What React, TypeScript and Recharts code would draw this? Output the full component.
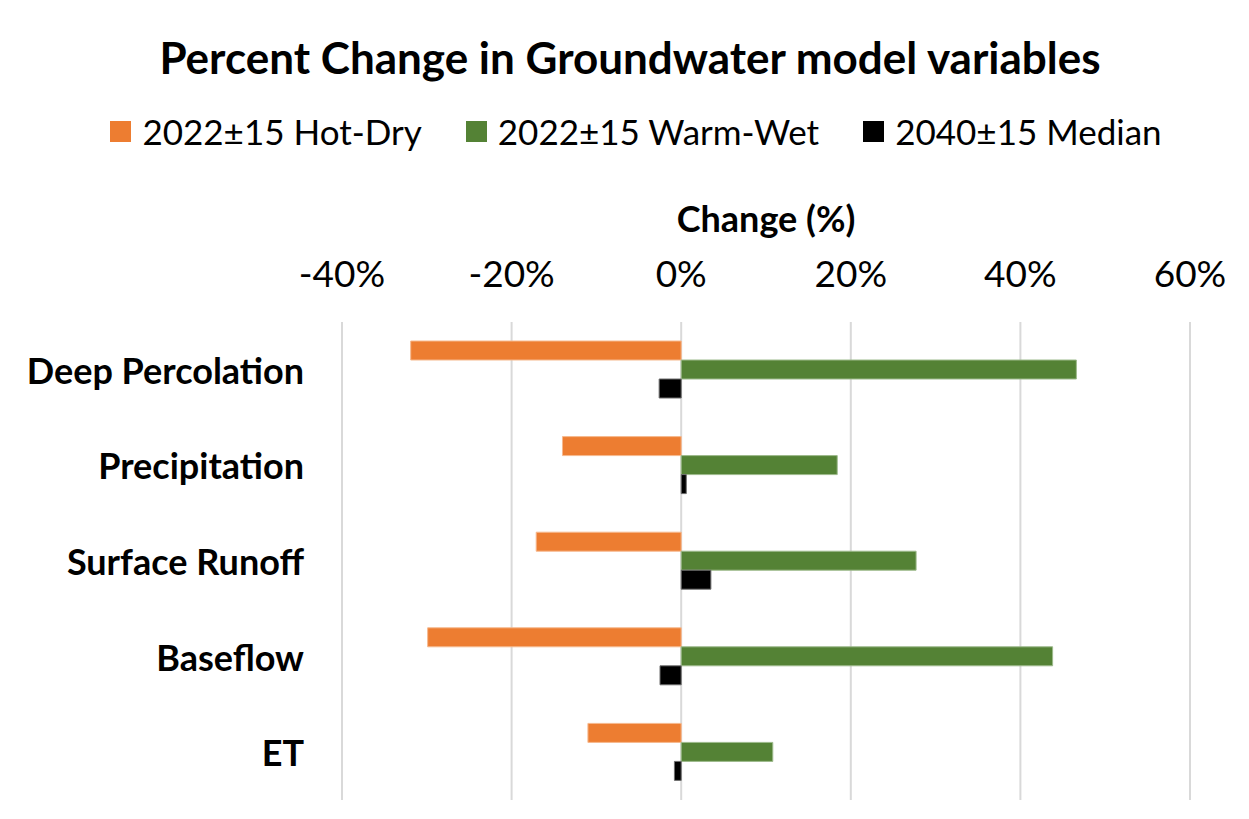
import { Bar, BarChart, CartesianGrid, XAxis, YAxis } from "recharts";

const categories = ["Deep Percolation", "Precipitation", "Surface Runoff", "Baseflow", "ET"];
const hotDry = [-31.9, -14.0, -17.1, -29.9, -11.0];
const warmWet = [46.6, 18.4, 27.7, 43.8, 10.8];
const median = [-2.6, 0.6, 3.5, -2.5, -0.8];
const xTicks = [-40, -20, 0, 20, 40, 60];

const data = categories.map((name, i) => ({
  name,
  hotDry: hotDry[i],
  warmWet: warmWet[i],
  median: median[i],
}));

const FONT = "Lato, 'Open Sans', sans-serif";

const legendItems = [
  { label: "2022±15 Hot-Dry", color: "#ED7D31" },
  { label: "2022±15 Warm-Wet", color: "#548235" },
  { label: "2040±15 Median", color: "#000000" },
];

function XTick({ x, y, payload }: { x?: number; y?: number; payload?: { value: number } }) {
  return (
    <text
      x={x}
      y={(y ?? 0) - 50}
      textAnchor="middle"
      dominantBaseline="central"
      fontSize={37}
      fontFamily={FONT}
      fill="#000"
    >
      {`${payload?.value}%`}
    </text>
  );
}

function YTick({ x, y, payload }: { x?: number; y?: number; payload?: { value: string } }) {
  return (
    <text
      x={x}
      y={y}
      textAnchor="end"
      dominantBaseline="central"
      fontSize={36}
      fontWeight={700}
      fontFamily={FONT}
      fill="#000"
    >
      {payload?.value}
    </text>
  );
}

export default function App() {
  return (
    <div
      style={{
        position: "absolute",
        left: 0,
        top: 0,
        width: 1249,
        height: 819,
        background: "#fff",
        fontFamily: FONT,
        color: "#000",
      }}
    >
      <div
        style={{
          position: "absolute",
          left: 0,
          width: 1260,
          top: 28,
          textAlign: "center",
          fontSize: 44,
          fontWeight: 700,
          lineHeight: "58px",
        }}
      >
        Percent Change in Groundwater model variables
      </div>
      <div
        style={{
          position: "absolute",
          left: 0,
          width: 1272,
          top: 110,
          display: "flex",
          justifyContent: "center",
          gap: 44,
          fontSize: 35,
          lineHeight: "42px",
        }}
      >
        {legendItems.map((it) => (
          <div key={it.label} style={{ display: "flex", alignItems: "center" }}>
            <span
              style={{
                display: "inline-block",
                width: 21,
                height: 21,
                background: it.color,
                marginRight: 11,
              }}
            />
            {it.label}
          </div>
        ))}
      </div>
      <div
        style={{
          position: "absolute",
          left: 342,
          width: 848,
          top: 196,
          textAlign: "center",
          fontSize: 36,
          fontWeight: 700,
          lineHeight: "44px",
        }}
      >
        Change (%)
      </div>
      <div style={{ position: "absolute", left: 0, top: 0 }}>
        <BarChart
          width={1249}
          height={819}
          data={data}
          layout="vertical"
          margin={{ top: 262, right: 59, bottom: 19, left: 0 }}
          barGap={0}
          barSize={19}
        >
          <CartesianGrid horizontal={false} stroke="#D9D9D9" strokeWidth={2} />
          <XAxis
            type="number"
            orientation="top"
            domain={[-40, 60]}
            ticks={xTicks}
            height={60}
            axisLine={false}
            tickLine={false}
            tickSize={0}
            tickMargin={0}
            tick={<XTick />}
            interval={0}
          />
          <YAxis
            type="category"
            dataKey="name"
            width={342}
            axisLine={false}
            tickLine={false}
            tickSize={0}
            tickMargin={38}
            tick={<YTick />}
            interval={0}
          />
          <Bar dataKey="hotDry" fill="#ED7D31" stroke="#F6B98E" strokeWidth={1} isAnimationActive={false} />
          <Bar dataKey="warmWet" fill="#548235" stroke="#9DBA8C" strokeWidth={1} isAnimationActive={false} />
          <Bar dataKey="median" fill="#000000" stroke="#6E6E6E" strokeWidth={1} isAnimationActive={false} />
        </BarChart>
      </div>
    </div>
  );
}
